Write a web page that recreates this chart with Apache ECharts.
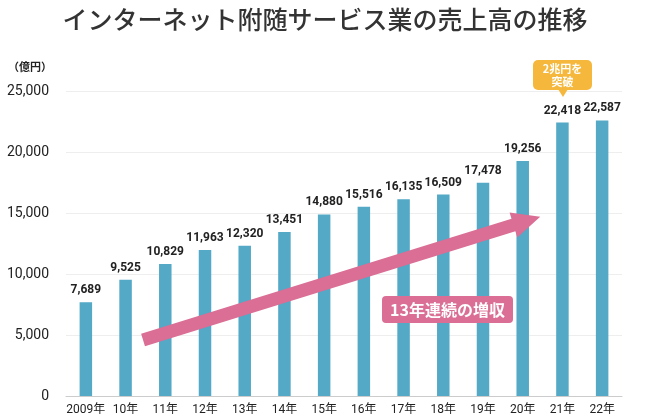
<!DOCTYPE html>
<html>
<head>
<meta charset="utf-8">
<script src="https://cdn.jsdelivr.net/npm/echarts@6/dist/echarts.min.js"></script>
<style>html,body{margin:0;padding:0;background:#fff;}#c{width:650px;height:420px;}</style>
</head>
<body>
<div id="c"></div>
<script>
const categories = ['2009年','10年','11年','12年','13年','14年','15年','16年','17年','18年','19年','20年','21年','22年'];
const sales = [7689, 9525, 10829, 11963, 12320, 13451, 14880, 15516, 16135, 16509, 17478, 19256, 22418, 22587];
const yTicks = [0, 5000, 10000, 15000, 20000, 25000];
// arrow annotation in data space: [x index start, value start, x index end, value end]
const trendArrow = [[1.44, 4590, 11.44, 14700]];

const chart = echarts.init(document.getElementById('c'));
const FONT = 'Roboto, "Noto Sans CJK JP", sans-serif';

function renderArrow(params, api) {
  const p0 = api.coord([api.value(0), api.value(1)]);
  const p1 = api.coord([api.value(2), api.value(3)]);
  const dx = p1[0] - p0[0], dy = p1[1] - p0[1];
  const len = Math.sqrt(dx * dx + dy * dy);
  const ux = dx / len, uy = dy / len;
  const nx = -uy, ny = ux;
  const sw = 6.5, hw = 13, hl = 28;
  const bx = p1[0] - ux * hl, by = p1[1] - uy * hl;
  const pts = [
    [p0[0] + nx * sw, p0[1] + ny * sw],
    [bx + nx * sw, by + ny * sw],
    [bx + nx * hw, by + ny * hw],
    [p1[0], p1[1]],
    [bx - nx * hw, by - ny * hw],
    [bx - nx * sw, by - ny * sw],
    [p0[0] - nx * sw, p0[1] - ny * sw]
  ];
  return { type: 'polygon', shape: { points: pts }, style: { fill: '#DA6E94' } };
}

chart.setOption({
  animation: false,
  title: {
    text: 'インターネット附随サービス業の売上高の推移',
    left: 'center', top: 2,
    textStyle: { fontFamily: '"Noto Sans CJK JP", sans-serif', fontSize: 25, fontWeight: 500, color: '#333' }
  },
  grid: { left: 66, right: 28, top: 91, bottom: 24 },
  xAxis: [{
    type: 'category', data: categories,
    axisTick: { show: false },
    axisLine: { lineStyle: { color: '#cccccc' } },
    axisLabel: { color: '#222', fontFamily: FONT, fontSize: 12, margin: 8, interval: 0 }
  }, {
    type: 'value', min: -0.5, max: 13.5, show: false
  }],
  yAxis: {
    type: 'value', min: 0, max: 25000, interval: 5000,
    axisLine: { show: false }, axisTick: { show: false },
    splitLine: { lineStyle: { color: '#eeeeee' } },
    axisLabel: {
      color: '#222', fontFamily: FONT, fontSize: 14, margin: 17,
      formatter: v => yTicks.indexOf(v) >= 0 ? v.toLocaleString('en-US') : ''
    }
  },
  series: [{
    type: 'bar', data: sales, barWidth: 12.5,
    itemStyle: { color: '#53A9C6' },
    label: {
      show: true, position: 'top', distance: 6,
      color: '#222', fontFamily: FONT, fontSize: 12, fontWeight: 'bold',
      formatter: p => p.value.toLocaleString('en-US')
    }
  }, {
    type: 'custom', xAxisIndex: 1, yAxisIndex: 0,
    data: trendArrow, renderItem: renderArrow, silent: true, z: 5
  }],
  graphic: [
    { type: 'text', left: 8, top: 61, style: { text: '（億円）', fill: '#222', font: 'bold 11px "Noto Sans CJK JP", sans-serif' } },
    { type: 'rect', shape: { x: 533, y: 60, width: 59, height: 30, r: 5 }, style: { fill: '#F5B83C' }, z: 10 },
    { type: 'polygon', shape: { points: [[558, 89], [568, 89], [563, 97]] }, style: { fill: '#F5B83C' }, z: 10 },
    { type: 'text', x: 562.5, y: 75, style: { text: '2兆円を\n突破', fill: '#fff', font: 'bold 11px "Noto Sans CJK JP", sans-serif', lineHeight: 13, align: 'center', verticalAlign: 'middle' }, z: 11 },
    { type: 'rect', shape: { x: 382, y: 296, width: 131, height: 27, r: 4 }, style: { fill: '#DA6E94' }, z: 10 },
    { type: 'text', x: 447.5, y: 310, style: { text: '13年連続の増収', fill: '#fff', font: 'bold 16px "Noto Sans CJK JP", sans-serif', align: 'center', verticalAlign: 'middle' }, z: 11 }
  ]
});
</script>
</body>
</html>
